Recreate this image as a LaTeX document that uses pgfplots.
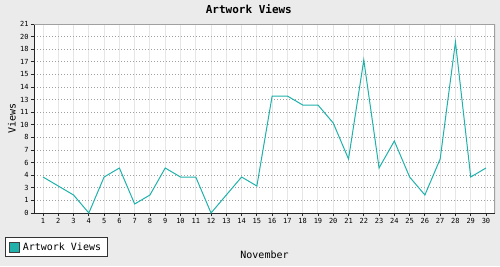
\documentclass[border=0pt]{standalone}
\usepackage{pgfplots}
\pgfplotsset{compat=1.18}
\usepackage{fontspec}
\setmainfont{DejaVu Sans Mono}
\definecolor{bgc}{HTML}{EBEBEB}
\definecolor{linec}{HTML}{20B2AA}
\definecolor{vgrid}{HTML}{E6E6E6}
\definecolor{hgrid}{HTML}{A0A0A0}
\definecolor{framec}{HTML}{A0A0A0}
\begin{document}
\begin{tikzpicture}
\fill[bgc] (-34pt,-53pt) rectangle (466pt,213pt);
\useasboundingbox (-34pt,-53pt) rectangle (466pt,213pt);
\begin{axis}[
  at={(0,0)}, anchor=south west,
  scale only axis, width=461pt, height=189pt,
  xmin=0.41, xmax=30.59, ymin=0, ymax=21,
  axis background/.style={fill=white},
  axis lines*=left,
  axis line style={black!85, line width=1pt},
  xtick={1,...,30},
  ytick={0,1.4,2.8,4.2,5.6,7,8.4,9.8,11.2,12.6,14,15.4,16.8,18.2,19.6,21},
  yticklabels={0,1,3,4,6,7,8,10,11,13,14,15,17,18,20,21},
  tick align=outside, major tick length=3pt,
  tick style={black!85, line width=0.8pt},
  /pgf/number format/assume math mode=true,
  ticklabel style={font=\fontsize{7}{8}\selectfont},
  xticklabel style={yshift=1pt},
  yticklabel style={xshift=1pt},
  xmajorgrids, ymajorgrids,
  x grid style={vgrid, line width=1pt},
  y grid style={hgrid, dash pattern=on 1pt off 2pt, line width=0.8pt},
  title={\textbf{Artwork Views}},
  title style={at={(axis description cs:0.466,1.045)}, anchor=center, font=\fontsize{11}{13}\selectfont},
  xlabel={November},
  xlabel style={at={(axis description cs:0.5,-0.222)}, anchor=center, font=\fontsize{10}{12}\selectfont},
  ylabel={Views},
  ylabel style={at={(axis description cs:-0.0477,0.5)}, anchor=center, font=\fontsize{10}{12}\selectfont},
  legend style={at={(axis description cs:-0.0629,-0.127)}, anchor=north west,
    draw=black!80, line width=1pt, fill=white, font=\fontsize{10}{12}\selectfont,
    inner xsep=3pt, inner ysep=3pt,
    nodes={inner xsep=3.5pt}},
  legend image code/.code={\draw[fill=linec, draw=black!75, line width=0.8pt] (0pt,-5pt) rectangle (10pt,5pt);},
]
\draw[framec, line width=1.5pt] (rel axis cs:0,1) -- (rel axis cs:1,1) -- (rel axis cs:1,0);
\addplot[linec, line width=1pt, mark=none] coordinates {
(1,4) (2,3) (3,2) (4,0) (5,4) (6,5) (7,1) (8,2) (9,5) (10,4)
(11,4) (12,0) (13,2) (14,4) (15,3) (16,13) (17,13) (18,12) (19,12) (20,10)
(21,6) (22,17) (23,5) (24,8) (25,4) (26,2) (27,6) (28,19) (29,4) (30,5)
};
\addlegendentry{Artwork Views}
\end{axis}
\end{tikzpicture}
\end{document}
